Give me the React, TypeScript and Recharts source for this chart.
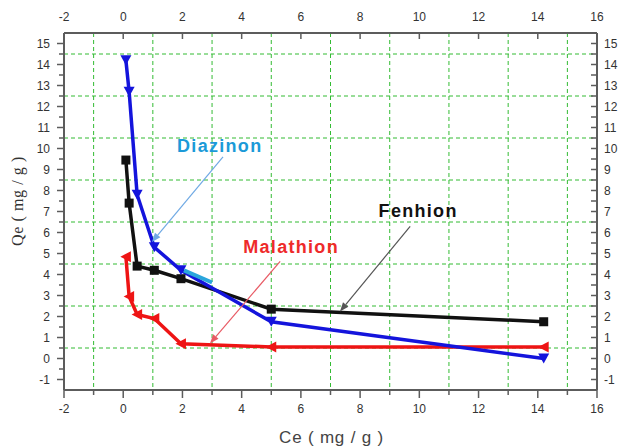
import { LineChart, Line, XAxis, YAxis, CartesianGrid, ReferenceLine, ReferenceDot, Label } from "recharts";

// Equilibrium concentration (shared by the three pesticides)
const ceValues = [0.09, 0.2, 0.47, 1.05, 1.95, 5.0, 14.2];
const diazinonQe = [14.2, 12.7, 7.8, 5.3, 4.2, 1.75, 0.0];
const fenhionQe = [9.45, 7.4, 4.4, 4.2, 3.8, 2.35, 1.75];
const malathionQe = [4.85, 2.95, 2.1, 1.9, 0.7, 0.55, 0.55];

const xMajorTicks = [-2, 0, 2, 4, 6, 8, 10, 12, 14, 16];
const xAllTicks = [-2, -1, 0, 1, 2, 3, 4, 5, 6, 7, 8, 9, 10, 11, 12, 13, 14, 15, 16];
const yHalfTicks = [
  -1, -0.5, 0, 0.5, 1, 1.5, 2, 2.5, 3, 3.5, 4, 4.5, 5, 5.5, 6, 6.5, 7, 7.5,
  8, 8.5, 9, 9.5, 10, 10.5, 11, 11.5, 12, 12.5, 13, 13.5, 14, 14.5, 15,
];
const xGridValues = [-1, 1, 3, 5, 7, 9, 11, 13, 15];
const yGridValues = [-0.5, 0.5, 1.5, 2.5, 3.5, 4.5, 5.5, 6.5, 7.5, 8.5, 9.5, 10.5, 11.5, 12.5, 13.5, 14.5];

const X_DOMAIN: [number, number] = [-2, 16];
const Y_DOMAIN: [number, number] = [-1.5, 15.5];

const data = ceValues.map((ce, i) => ({
  ce,
  diazinon: diazinonQe[i],
  fenhion: fenhionQe[i],
  malathion: malathionQe[i],
}));

const FONT = "'Liberation Sans', Arial, sans-serif";
const SERIF = "'Liberation Serif', 'Times New Roman', serif";
const AXIS = "#5c5c5c";
const TEXT = "#333";
const GRID = "#33bb33";
const BLUE = "#1414dc";
const BLACK = "#111111";
const RED = "#ee1414";
const MARGIN = 10;

function BottomTick({ x, y, payload }: any) {
  const axisY = y - MARGIN;
  const major = payload.value % 2 === 0;
  return (
    <g>
      <line x1={x} x2={x} y1={axisY} y2={axisY + (major ? 8 : 5)} stroke={AXIS} strokeWidth={1.5} />
      {major && (
        <text x={x} y={axisY + 19} dy="0.35em" textAnchor="middle" fontSize={12} fontFamily={FONT} fill={TEXT}>
          {payload.value}
        </text>
      )}
    </g>
  );
}

function TopTick({ x, y, payload }: any) {
  const axisY = y + MARGIN;
  return (
    <g>
      <line x1={x} x2={x} y1={axisY} y2={axisY + 6} stroke={AXIS} strokeWidth={1.5} />
      <text x={x} y={axisY - 16} dy="0.35em" textAnchor="middle" fontSize={12} fontFamily={FONT} fill={TEXT}>
        {payload.value}
      </text>
    </g>
  );
}

function LeftTick({ x, y, payload }: any) {
  const axisX = x + MARGIN;
  const major = Number.isInteger(payload.value);
  return (
    <g>
      <line x1={axisX} x2={axisX - (major ? 7 : 5)} y1={y} y2={y} stroke={AXIS} strokeWidth={1.5} />
      {major && (
        <text x={axisX - 14} y={y} dy="0.35em" textAnchor="end" fontSize={12} fontFamily={FONT} fill={TEXT}>
          {payload.value}
        </text>
      )}
    </g>
  );
}

function RightTick({ x, y, payload }: any) {
  const axisX = x - MARGIN;
  const major = Number.isInteger(payload.value);
  return (
    <g>
      <line x1={axisX} x2={axisX - 6} y1={y} y2={y} stroke={AXIS} strokeWidth={1.5} />
      {major && (
        <text x={axisX + 7} y={y} dy="0.35em" textAnchor="start" fontSize={12} fontFamily={FONT} fill={TEXT}>
          {payload.value}
        </text>
      )}
    </g>
  );
}

const DownTriangle = ({ cx, cy }: any) =>
  cx == null ? null : (
    <polygon points={`${cx - 5.5},${cy - 5} ${cx + 5.5},${cy - 5} ${cx},${cy + 5}`} fill={BLUE} />
  );

const Square = ({ cx, cy }: any) =>
  cx == null ? null : <rect x={cx - 4.5} y={cy - 4.5} width={9} height={9} fill={BLACK} />;

const LeftTriangle = ({ cx, cy }: any) =>
  cx == null ? null : (
    <polygon points={`${cx - 5.5},${cy} ${cx + 5},${cy - 5.5} ${cx + 5},${cy + 5.5}`} fill={RED} />
  );

// line ending in a filled arrow head
const arrowShape = (color: string, width: number) => (props: any) => {
  const { x1, y1, x2, y2 } = props;
  if (x1 == null) return null;
  const a = Math.atan2(y2 - y1, x2 - x1);
  const len = 9;
  const half = 3.5;
  const bx = x2 - len * Math.cos(a);
  const by = y2 - len * Math.sin(a);
  const p1 = `${bx - half * Math.sin(a)},${by + half * Math.cos(a)}`;
  const p2 = `${bx + half * Math.sin(a)},${by - half * Math.cos(a)}`;
  return (
    <g>
      <line x1={x1} y1={y1} x2={bx} y2={by} stroke={color} strokeWidth={width} />
      <polygon points={`${x2},${y2} ${p1} ${p2}`} fill={color} />
    </g>
  );
};

const labelShape = (text: string, color: string) => (props: any) => {
  const { cx, cy } = props;
  if (cx == null) return null;
  return (
    <text
      x={cx}
      y={cy}
      dy="0.35em"
      textAnchor="middle"
      fontSize={18}
      fontWeight="bold"
      letterSpacing={1.3}
      fontFamily={FONT}
      fill={color}
    >
      {text}
    </text>
  );
};

export default function App() {
  return (
    <div style={{ position: "absolute", left: 0, top: 0, background: "#fff" }}>
      <LineChart width={619} height={447} data={data} margin={{ top: 0, right: 0, bottom: 0, left: 0 }}>
        <XAxis
          xAxisId="grid"
          dataKey="ce"
          type="number"
          domain={X_DOMAIN}
          ticks={xGridValues}
          allowDataOverflow
          height={0}
          hide
        />
        <YAxis yAxisId="grid" type="number" domain={Y_DOMAIN} ticks={yGridValues} allowDataOverflow width={0} hide />
        <CartesianGrid xAxisId="grid" yAxisId="grid" stroke={GRID} strokeDasharray="4 3" strokeWidth={1} />

        <XAxis
          xAxisId="bottom"
          dataKey="ce"
          type="number"
          domain={X_DOMAIN}
          ticks={xAllTicks}
          allowDataOverflow
          interval={0}
          height={57}
          tickSize={0}
          tickMargin={MARGIN}
          tick={<BottomTick />}
          axisLine={{ stroke: AXIS, strokeWidth: 2 }}
        >
          <Label
            content={({ viewBox }: any) => (
              <text
                x={viewBox.x + viewBox.width / 2 + 1}
                y={viewBox.y + 53}
                textAnchor="middle"
                fontSize={17}
                letterSpacing={0.8}
                fontFamily={FONT}
                fill="#444"
              >
                Ce ( mg / g )
              </text>
            )}
          />
        </XAxis>
        <XAxis
          xAxisId="top"
          orientation="top"
          dataKey="ce"
          type="number"
          domain={X_DOMAIN}
          ticks={xMajorTicks}
          allowDataOverflow
          interval={0}
          height={33}
          tickSize={0}
          tickMargin={MARGIN}
          tick={<TopTick />}
          axisLine={{ stroke: AXIS, strokeWidth: 2 }}
        />
        <YAxis
          yAxisId="left"
          type="number"
          domain={Y_DOMAIN}
          ticks={yHalfTicks}
          allowDataOverflow
          interval={0}
          width={64}
          tickSize={0}
          tickMargin={MARGIN}
          tick={<LeftTick />}
          axisLine={{ stroke: AXIS, strokeWidth: 2 }}
        >
          <Label
            content={({ viewBox }: any) => {
              const cx = viewBox.x + 17;
              const cy = viewBox.y + 168;
              return (
                <text
                  x={cx}
                  y={cy}
                  dy="0.35em"
                  transform={`rotate(-90 ${cx} ${cy})`}
                  textAnchor="middle"
                  fontSize={16}
                  letterSpacing={0.6}
                  fontFamily={SERIF}
                  fill="#333"
                >
                  Qe ( mg / g )
                </text>
              );
            }}
          />
        </YAxis>
        <YAxis
          yAxisId="right"
          orientation="right"
          dataKey="diazinon"
          type="number"
          domain={Y_DOMAIN}
          ticks={yHalfTicks}
          allowDataOverflow
          interval={0}
          width={22}
          tickSize={0}
          tickMargin={MARGIN}
          tick={<RightTick />}
          axisLine={{ stroke: AXIS, strokeWidth: 2 }}
        />

        <Line
          xAxisId="bottom"
          yAxisId="left"
          type="linear"
          dataKey="fenhion"
          stroke={BLACK}
          strokeWidth={3.5}
          dot={<Square />}
          activeDot={false}
          isAnimationActive={false}
        />
        <Line
          xAxisId="bottom"
          yAxisId="left"
          type="linear"
          dataKey="malathion"
          stroke={RED}
          strokeWidth={3.5}
          dot={<LeftTriangle />}
          activeDot={false}
          isAnimationActive={false}
        />
        <Line
          xAxisId="bottom"
          yAxisId="left"
          type="linear"
          dataKey="diazinon"
          stroke={BLUE}
          strokeWidth={3.5}
          dot={<DownTriangle />}
          activeDot={false}
          isAnimationActive={false}
        />

        {/* pointer stroke laid over the Diazinon curve */}
        <ReferenceLine
          xAxisId="bottom"
          yAxisId="left"
          segment={[{ x: 2.05, y: 4.2 }, { x: 3.0, y: 3.62 }]}
          stroke="#2aa6dc"
          strokeWidth={4}
        />

        <ReferenceLine
          xAxisId="bottom"
          yAxisId="left"
          segment={[{ x: 3.37, y: 9.6 }, { x: 0.97, y: 5.55 }]}
          shape={arrowShape("#6fa9e4", 1.2)}
        />
        <ReferenceLine
          xAxisId="bottom"
          yAxisId="left"
          segment={[{ x: 5.3, y: 4.62 }, { x: 2.93, y: 0.72 }]}
          shape={arrowShape("#e85a64", 1.2)}
        />
        <ReferenceLine
          xAxisId="bottom"
          yAxisId="left"
          segment={[{ x: 9.69, y: 6.29 }, { x: 7.32, y: 2.24 }]}
          shape={arrowShape("#555", 1.2)}
        />

        <ReferenceDot xAxisId="bottom" yAxisId="left" x={3.26} y={10.14} r={0} shape={labelShape("Diazinon", "#1b9ad8")} />
        <ReferenceDot xAxisId="bottom" yAxisId="left" x={5.67} y={5.33} r={0} shape={labelShape("Malathion", "#ee2a2a")} />
        <ReferenceDot xAxisId="bottom" yAxisId="left" x={9.96} y={7.05} r={0} shape={labelShape("Fenhion", "#111")} />
      </LineChart>
    </div>
  );
}
